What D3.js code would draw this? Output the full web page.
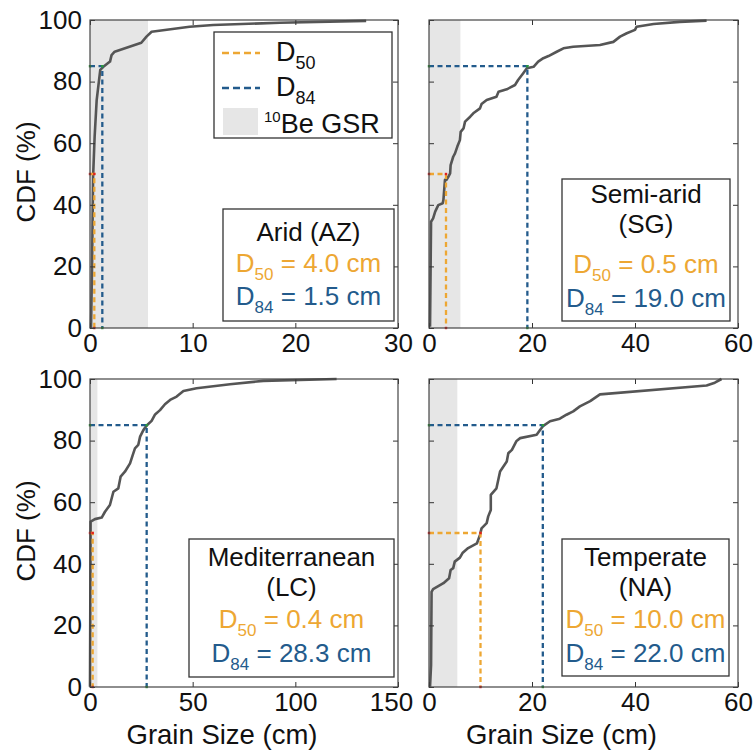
<!DOCTYPE html>
<html>
<head>
<meta charset="utf-8">
<script src="https://cdn.jsdelivr.net/npm/d3@7"></script>
<style>
  body { margin: 0; background: #fff; }
  svg { font-family: "Liberation Sans", Arial, sans-serif; }
</style>
</head>
<body>
<div id="chart"></div>
<script>
// grain size CDFs, four climate sites

// cdf points (x = grain size cm, y = %) for each site
const aridX = [0.1, 0.2, 0.3, 0.45, 0.65, 1.0, 1.3, 1.95, 2.1, 2.4, 5.0, 5.5, 6.0, 9.7, 12, 18.5, 26.9];
const aridY = [0, 20, 49, 62, 74, 83.8, 84.8, 86.5, 88.6, 89.7, 92.6, 94.6, 96.2, 97.8, 98.4, 99.1, 99.7];

const semiX = [0.2, 0.4, 0.8, 1.2, 1.8, 2.66, 2.8, 3.1, 3.4, 3.75, 4.1, 4.2, 4.7, 5.05, 5.5, 6.0, 6.15, 6.7, 7.0, 8.0, 8.6, 9.9, 10.2, 11.2, 13.1, 13.5, 15.1, 16.7, 17.3, 18.3, 19.0, 20.3, 21.2, 22.2, 23.2, 24.8, 26.1, 28.0, 33.2, 35.8, 37.1, 38.4, 40.0, 40.3, 43.6, 48.7, 53.9];
const semiY = [0.4, 34.5, 35.6, 37.8, 39.9, 40.5, 41.6, 48.1, 48.1, 49.1, 50.2, 52.9, 55.6, 56.7, 58.9, 61, 63.7, 64.8, 67, 68.6, 69.7, 71.3, 72.7, 74, 75.1, 76.7, 77.5, 78.9, 80.5, 82.7, 84.3, 84.8, 86.5, 87.6, 88.3, 89.7, 90.8, 91.3, 91.9, 92.9, 94.6, 95.7, 96.8, 97.8, 98.7, 99.4, 99.8];

const medX = [0, 0.3, 2.4, 5.7, 7.3, 9.7, 11.4, 13.8, 14.9, 17.0, 19.5, 20.8, 21.9, 23.5, 24.4, 26.0, 27.6, 30.0, 31.7, 34.1, 36.5, 39.0, 42.2, 45.5, 51.9, 68.2, 84.4, 120.1];
const medY = [0.1, 53.7, 54.5, 55, 56.9, 59.1, 63.4, 64.5, 68.3, 69.9, 72.6, 75.3, 77.5, 78.6, 81.3, 83.4, 84.9, 86.4, 88.5, 89.9, 91.8, 93.2, 94.3, 96.1, 97, 98.3, 99.4, 100];

const tempX = [0.2, 0.4, 0.5, 0.8, 2.8, 3.9, 4.2, 4.7, 5.0, 6.0, 6.5, 7.6, 9.3, 9.9, 10.2, 11.2, 11.5, 12.0, 12.0, 13.1, 13.8, 15.1, 15.4, 16.1, 17.0, 17.7, 20.9, 21.6, 22.2, 23.5, 25.4, 26.7, 28.0, 29.3, 31.3, 33.2, 53.9, 55.5, 56.8];
const tempY = [0.1, 7.1, 30.9, 31.8, 33.7, 35.3, 38, 38.6, 40.7, 42, 43.5, 45.1, 46.6, 49.4, 51.5, 53.2, 55.4, 57.5, 62.4, 64.5, 70, 73.2, 75.9, 77, 79.9, 80.8, 81.9, 83.5, 84.8, 86.3, 87.1, 88.4, 89.5, 91.1, 92.8, 95, 97.9, 98.8, 100];

// per panel settings
const siteNames = [["Arid (AZ)"], ["Semi-arid", "(SG)"], ["Mediterranean", "(LC)"], ["Temperate", "(NA)"]];
const xMax = [30, 60, 150, 60];
const xTicks = [[0, 10, 20, 30], [0, 20, 40, 60], [0, 50, 100, 150], [0, 20, 40, 60]];
const yTicks = [0, 20, 40, 60, 80, 100];
const gsrMax = [5.65, 6.1, 3.6, 5.5];        // 10Be GSR shaded range
const d50Line = [0.42, 3.3, 1.3, 10.0];      // where the dashed lines sit
const d84Line = [1.2, 19.1, 27.6, 22.1];
const d50Text = ["4.0", "0.5", "0.4", "10.0"]; // values as printed in the boxes
const d84Text = ["1.5", "19.0", "28.3", "22.0"];
const curvesX = [aridX, semiX, medX, tempX];
const curvesY = [aridY, semiY, medY, tempY];

const orange = "#eda733";
const blue = "#235b8c";

const W = 755, H = 752;
const svg = d3.select("#chart").append("svg").attr("width", W).attr("height", H);

// axes boxes in px
const boxes = [
  { x0: 90, x1: 398, y0: 20, y1: 328 },
  { x0: 429, x1: 738, y0: 20, y1: 328 },
  { x0: 90, x1: 398, y0: 379, y1: 687 },
  { x0: 429, x1: 738, y0: 379, y1: 687 }
];
// info boxes (left, top, right, bottom) and text baselines
const infoBoxes = [
  { x0: 223, y0: 209, x1: 394, y1: 321, lines: [241, 272, 305] },
  { x0: 562, y0: 179, x1: 730, y1: 321, lines: [203, 233, 273, 307] },
  { x0: 189, y0: 539, x1: 394, y1: 677, lines: [566, 596, 628, 662] },
  { x0: 562, y0: 539, x1: 729, y1: 676, lines: [566, 596, 628, 662] }
];

boxes.forEach((b, i) => {
  const x = d3.scaleLinear().domain([0, xMax[i]]).range([b.x0, b.x1]);
  const y = d3.scaleLinear().domain([0, 100]).range([b.y1, b.y0]);
  const g = svg.append("g");

  // gsr shading
  g.append("rect")
    .attr("x", x(0)).attr("y", y(100))
    .attr("width", x(gsrMax[i]) - x(0)).attr("height", y(0) - y(100))
    .attr("fill", "#e6e6e6");

  // cdf line
  const pts = curvesX[i].map((v, k) => [v, curvesY[i][k]]);
  g.append("path")
    .datum(pts)
    .attr("d", d3.line().x(d => x(d[0])).y(d => y(d[1])))
    .attr("fill", "none")
    .attr("stroke", "#555")
    .attr("stroke-width", 2.6)
    .attr("stroke-linejoin", "round");

  // D50 / D84 guide lines
  [[d50Line[i], 50, orange, "#e02020"], [d84Line[i], 85, blue, "#2a9a3a"]].forEach(([dx, dy, c, mc]) => {
    g.append("path")
      .attr("d", d3.line()([[x(0), y(dy)], [x(dx), y(dy)], [x(dx), y(0)]]))
      .attr("fill", "none")
      .attr("stroke", c)
      .attr("stroke-width", 2.3)
      .attr("stroke-dasharray", "5,3.5");
    g.selectAll(null)
      .data([[0, dy], [dx, dy], [dx, 0]])
      .join("rect")
      .attr("x", d => x(d[0]) - 1.2).attr("y", d => y(d[1]) - 1.2)
      .attr("width", 2.4).attr("height", 2.4)
      .attr("fill", mc);
  });

  // axes, ticks inward on all sides
  const tickFont = 26;
  const ax = g.append("g").attr("transform", `translate(0,${b.y1})`)
    .call(d3.axisBottom(x).tickValues(xTicks[i]).tickSize(-5).tickPadding(6));
  // keep the last label of the 0-150 axis off the neighbour's "0"
  if (i === 2) ax.selectAll(".tick text").filter(d => d === 150).attr("dx", -7);
  const ay = g.append("g").attr("transform", `translate(${b.x0},0)`)
    .call(d3.axisLeft(y).tickValues(yTicks).tickSize(-5).tickPadding(8));
  if (i % 2 === 1) ay.selectAll("text").remove();
  g.append("g").attr("transform", `translate(0,${b.y0})`)
    .call(d3.axisTop(x).tickValues(xTicks[i]).tickSize(-5).tickFormat(""));
  g.append("g").attr("transform", `translate(${b.x1},0)`)
    .call(d3.axisRight(y).tickValues(yTicks).tickSize(-5).tickFormat(""));
  g.selectAll(".domain").remove();
  g.selectAll(".tick line").attr("stroke", "#333");
  g.selectAll(".tick text")
    .attr("font-size", tickFont)
    .attr("font-family", "Liberation Sans, Arial, sans-serif")
    .attr("fill", "#111");

  g.append("rect")
    .attr("x", b.x0).attr("y", b.y0)
    .attr("width", b.x1 - b.x0).attr("height", b.y1 - b.y0)
    .attr("fill", "none").attr("stroke", "#444").attr("stroke-width", 1.2);

  // info box
  const ib = infoBoxes[i];
  g.append("rect")
    .attr("x", ib.x0).attr("y", ib.y0)
    .attr("width", ib.x1 - ib.x0).attr("height", ib.y1 - ib.y0)
    .attr("fill", "#fff").attr("stroke", "#333").attr("stroke-width", 1.3);
  const cx = (ib.x0 + ib.x1) / 2;
  siteNames[i].forEach((t, k) => {
    g.append("text").attr("x", cx).attr("y", ib.lines[k])
      .attr("text-anchor", "middle").attr("font-size", 26).attr("fill", "#111")
      .text(t);
  });
  const n = siteNames[i].length;
  [["50", d50Text[i], orange], ["84", d84Text[i], blue]].forEach(([sub, val, c], k) => {
    const t = g.append("text").attr("x", cx).attr("y", ib.lines[n + k])
      .attr("text-anchor", "middle").attr("font-size", 26).attr("fill", c);
    t.append("tspan").text("D");
    t.append("tspan").attr("font-size", 17).attr("dy", 8).text(sub);
    t.append("tspan").attr("dy", -8).text(" = " + val + " cm");
  });

  // axis titles
  if (i % 2 === 0) {
    svg.append("text")
      .attr("transform", `translate(35,${(b.y0 + b.y1) / 2 - 2}) rotate(-90)`)
      .attr("text-anchor", "middle").attr("font-size", 26).attr("fill", "#111")
      .text("CDF (%)");
  }
  if (i >= 2) {
    svg.append("text")
      .attr("x", (b.x0 + b.x1) / 2 - 22).attr("y", 744)
      .attr("text-anchor", "middle").attr("font-size", 27.5).attr("fill", "#111")
      .text("Grain Size (cm)");
  }
});

// legend in the first panel
const lg = svg.append("g");
lg.append("rect").attr("x", 214).attr("y", 32).attr("width", 178).attr("height", 106)
  .attr("fill", "#fff").attr("stroke", "#333").attr("stroke-width", 1.3);
[[53, orange, "50", 61], [88, blue, "84", 96]].forEach(([ly, c, sub, by]) => {
  lg.append("line").attr("x1", 222).attr("x2", 260).attr("y1", ly).attr("y2", ly)
    .attr("stroke", c).attr("stroke-width", 2.3).attr("stroke-dasharray", "7,4");
  const t = lg.append("text").attr("x", 276).attr("y", by).attr("font-size", 27).attr("fill", "#111");
  t.append("tspan").text("D");
  t.append("tspan").attr("font-size", 18).attr("dy", 8).text(sub);
});
lg.append("rect").attr("x", 223).attr("y", 108).attr("width", 35).attr("height", 27).attr("fill", "#e6e6e6");
const gt = lg.append("text").attr("x", 264).attr("y", 133).attr("font-size", 27).attr("fill", "#111");
gt.append("tspan").attr("font-size", 15).attr("dy", -11).text("10");
gt.append("tspan").attr("dy", 11).text("Be GSR");
</script>
</body>
</html>
